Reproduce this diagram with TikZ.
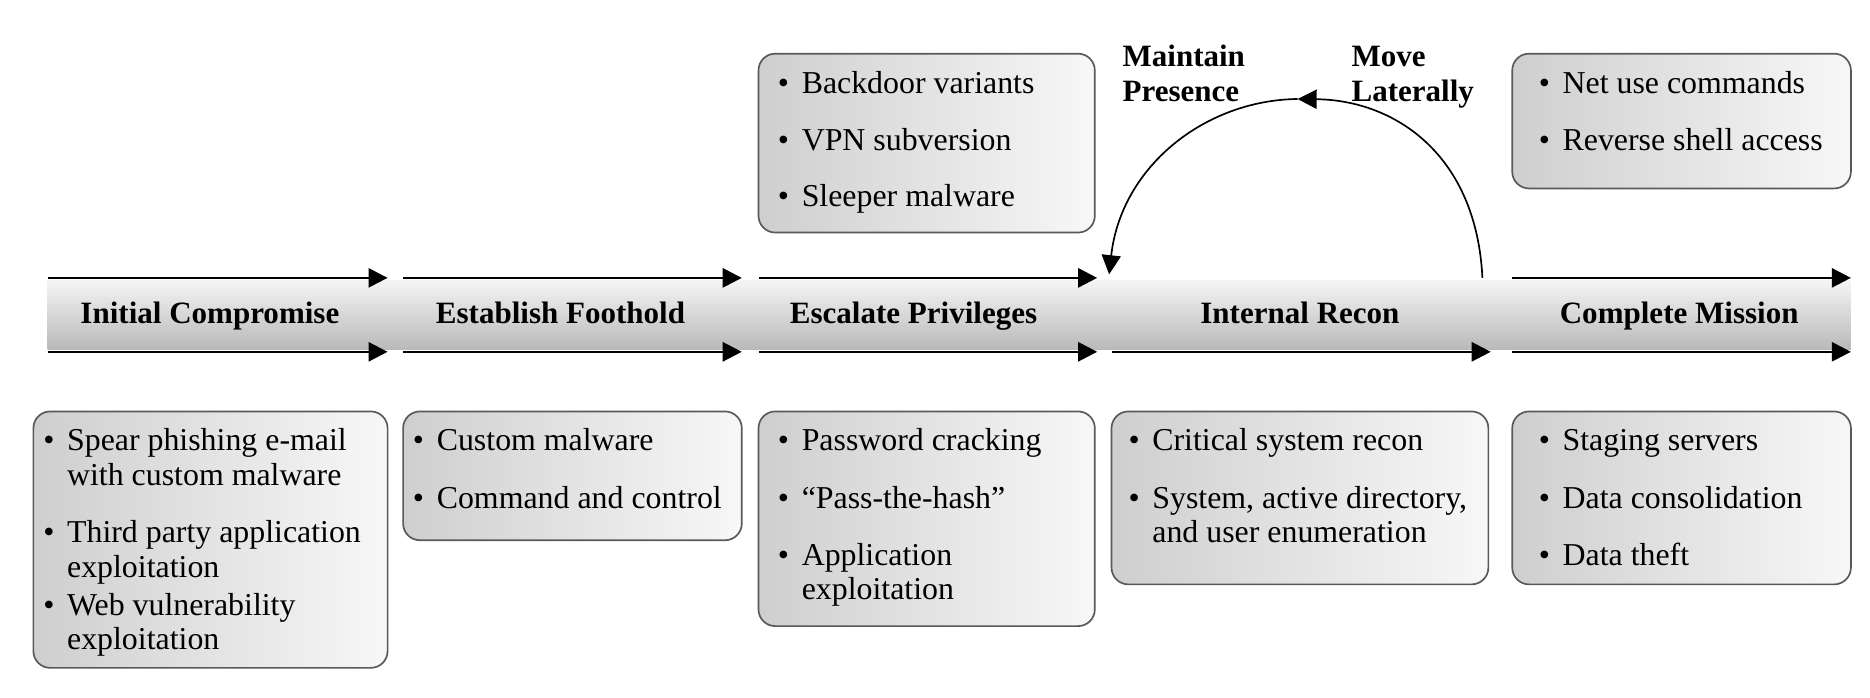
\documentclass[tikz,border=0pt]{standalone}
\usepackage{fontspec}
\setmainfont{Liberation Serif}
\usepackage{tikz}
\usetikzlibrary{arrows.meta}
\tikzset{>={Triangle[length=4mm,width=4mm]}}
\usepackage{xcolor}
\colorlet{boxline}{black!65}
\tikzstyle{stage}=[anchor=base,font=\fontsize{18.5}{21}\selectfont\bfseries]
\tikzstyle{phase}=[line width=1.5pt,->]
\tikzstyle{panel}=[draw=boxline,line width=1pt,rounded corners=10pt,left color=gray!38,right color=gray!6]
\tikzstyle{item}=[anchor=base west,inner sep=0,font=\fontsize{19}{20.6}\selectfont]
\newcommand{\bitem}[1]{\makebox[0.5cm][l]{\textbullet}\begin{tabular}[t]{@{}l@{}}#1\end{tabular}}

\begin{document}
\begin{tikzpicture}[x=0.025cm,y=-0.025cm]
\useasboundingbox (0,0) rectangle (1568,585);

% grey band under the phases
\shade[top color=gray!8,bottom color=gray!55] (40,235) rectangle (1552,293);

\draw [phase](40,233)--(325,233);
\draw [phase](40,295)--(325,295);
\draw [phase](338,233)--(622,233);
\draw [phase](338,295)--(622,295);
\draw [phase](636,233)--(920,233);
\draw [phase](636,295)--(920,295);
\draw [phase](932,295)--(1250,295);
\draw [phase](1268,233)--(1552,233);
\draw [phase](1268,295)--(1552,295);

\node[stage] (ic) at (176,271) {Initial Compromise};
\node[stage] (ef) at (470,271) {Establish Foothold};
\node[stage] (ep) at (766,271) {Escalate Privileges};
\node[stage] (ir) at (1090,271) {Internal Recon};
\node[stage] (cm) at (1408,271) {Complete Mission};

% loop over internal recon
\coordinate (loopR) at (1243,233);
\coordinate (loopT) at (1088,83);
\coordinate (loopL) at (930,230);
\draw [->,line width=1pt](loopR) .. controls (1238,130) and (1170,84) .. (loopT);
\draw [->,line width=1pt](loopT) .. controls (1010,84) and (940,140) .. (loopL);
\node[item,font=\fontsize{18.5}{20.6}\selectfont\bfseries] (mp) at (941,56) {\begin{tabular}[t]{@{}l@{}}Maintain\\Presence\end{tabular}};
\node[item,font=\fontsize{18.5}{20.6}\selectfont\bfseries] (ml) at (1133,56) {\begin{tabular}[t]{@{}l@{}}Move\\Laterally\end{tabular}};

% top boxes
\draw[panel] (636,45) rectangle (918,195);
\node[item] (bd) at (652,78) {\bitem{Backdoor variants}};
\node[item] (vpn) at (652,126) {\bitem{VPN subversion}};
\node[item] (sl) at (652,173) {\bitem{Sleeper malware}};

\draw[panel] (1268,45) rectangle (1552,158);
\node[item] (nu) at (1290,78) {\bitem{Net use commands}};
\node[item] (rs) at (1290,126) {\bitem{Reverse shell access}};

% bottom boxes
\draw[panel] (28,345) rectangle (325,560);
\node[item] (sp) at (36,378) {\bitem{Spear phishing e-mail\\with custom malware}};
\node[item] (tp) at (36,455) {\bitem{Third party application\\exploitation}};
\node[item] (wv) at (36,516) {\bitem{Web vulnerability\\exploitation}};

\draw[panel] (338,345) rectangle (622,453);
\node[item] (cu) at (346,378) {\bitem{Custom malware}};
\node[item] (cc) at (346,426) {\bitem{Command and control}};

\draw[panel] (636,345) rectangle (918,525);
\node[item] (pc) at (652,378) {\bitem{Password cracking}};
\node[item] (pth) at (652,426) {\bitem{“Pass-the-hash”}};
\node[item] (ae) at (652,474) {\bitem{Application\\exploitation}};

\draw[panel] (932,345) rectangle (1248,490);
\node[item] (cs) at (946,378) {\bitem{Critical system recon}};
\node[item] (ad) at (946,426) {\bitem{System, active directory,\\and user enumeration}};

\draw[panel] (1268,345) rectangle (1552,490);
\node[item] (ss) at (1290,378) {\bitem{Staging servers}};
\node[item] (dc) at (1290,426) {\bitem{Data consolidation}};
\node[item] (dt) at (1290,474) {\bitem{Data theft}};
\end{tikzpicture}
\end{document}
